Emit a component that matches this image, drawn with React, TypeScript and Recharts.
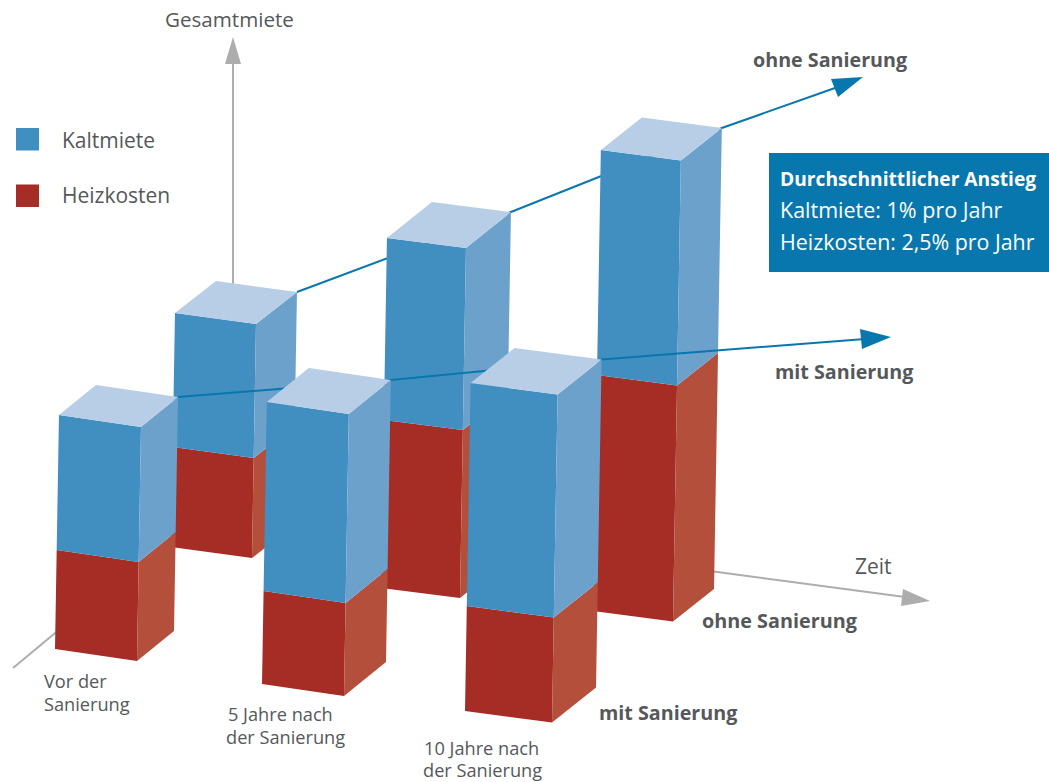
import { Bar, ComposedChart, Line, XAxis, YAxis } from 'recharts'

const W = 1049
const H = 782

const zeitpunkte = ['Vor der Sanierung', '5 Jahre nach der Sanierung', '10 Jahre nach der Sanierung']
const heizkostenOhne = [100, 168, 236]
const kaltmieteOhne = [134, 182, 225]
const heizkostenMit = [99, 93, 105]
const kaltmieteMit = [135, 189, 223]

const rows = zeitpunkte.map((zeit, i) => ({
  zeit,
  heizOhne: heizkostenOhne[i],
  kaltOhne: kaltmieteOhne[i],
  gesamtOhne: heizkostenOhne[i] + kaltmieteOhne[i],
  heizMit: heizkostenMit[i],
  kaltMit: kaltmieteMit[i],
  gesamtMit: heizkostenMit[i] + kaltmieteMit[i],
}))

// where each column stands on the floor of the perspective drawing
interface Box {
  left: number
  floor: number
  width: number
  skew: number
  dx: number
  dy: number
}

const LEAN = 0.017

const boxesOhne: Box[] = [
  { left: 171, floor: 547, width: 81, skew: 11, dx: 41, dy: -32 },
  { left: 381, floor: 588, width: 79, skew: 10, dx: 45, dy: -36 },
  { left: 593, floor: 611, width: 80, skew: 10.5, dx: 41, dy: -32.5 },
]

const boxesMit: Box[] = [
  { left: 55, floor: 649, width: 82, skew: 12, dx: 37, dy: -30 },
  { left: 262, floor: 684, width: 82, skew: 12, dx: 42, dy: -34 },
  { left: 465, floor: 711, width: 87, skew: 11.5, dx: 44, dy: -35 },
]

const BLUE = { front: '#418fc0', side: '#6ca1cb', top: '#b8cde6' }
const RED = { front: '#a52d25', side: '#b34f3b', top: '#b34f3b' }
const LINE_BLUE = '#0877ae'
const AXIS_GRAY = '#adadad'
const TEXT = '#55585a'
const FONT = '"Open Sans", sans-serif'

const pts = (list: number[][]) => list.map((p) => p.join(',')).join(' ')

// front face, side face and optional lid of one stacked segment
function column(boxes: Box[], colors: typeof BLUE, lid: boolean) {
  return function ColumnShape(props: any) {
    const { y, height, index } = props
    const b = boxes[index]
    const low = H - (y + height)
    const high = H - y
    const a = [b.left + LEAN * low, b.floor - low]
    const c = [b.left + LEAN * high, b.floor - high]
    const shift = (p: number[], sx: number, sy: number) => [p[0] + sx, p[1] + sy]
    const aR = shift(a, b.width, b.skew)
    const cR = shift(c, b.width, b.skew)
    return (
      <g>
        <polygon points={pts([a, aR, cR, c])} fill={colors.front} />
        <polygon
          points={pts([aR, shift(aR, b.dx, b.dy), shift(cR, b.dx, b.dy), cR])}
          fill={colors.side}
        />
        {lid && (
          <polygon
            points={pts([c, cR, shift(cR, b.dx, b.dy), shift(c, b.dx, b.dy)])}
            fill={colors.top}
          />
        )}
      </g>
    )
  }
}

// trend line through the rear corner of each column lid, running on to the arrow tip
function trend(boxes: Box[], lineEnd: number[], head: number[][]) {
  return function TrendShape(props: any) {
    const corners = props.points.map((p: any, i: number) => {
      const b = boxes[i]
      const h = H - p.y
      return [b.left + LEAN * h + b.width + b.dx, b.floor - h + b.skew + b.dy]
    })
    return (
      <g>
        <polyline
          points={pts([...corners, lineEnd])}
          fill="none"
          stroke={LINE_BLUE}
          strokeWidth={2}
        />
        <polygon points={pts(head)} fill={LINE_BLUE} />
      </g>
    )
  }
}

function Layer({ children }: { children: any }) {
  return (
    <div style={{ position: 'absolute', left: 0, top: 0 }}>
      <ComposedChart width={W} height={H} data={rows} margin={{ top: 0, right: 0, bottom: 0, left: 0 }}>
        <XAxis dataKey="zeit" hide />
        <YAxis hide domain={[0, H]} />
        {children}
      </ComposedChart>
    </div>
  )
}

function Label({ x, y, bold, size = 21, fill = TEXT, children }: any) {
  return (
    <text x={x} y={y} fontFamily={FONT} fontSize={size} fontWeight={bold ? 700 : 400} fill={fill}>
      {children}
    </text>
  )
}

export default function App() {
  return (
    <div style={{ position: 'absolute', left: 0, top: 0, width: W, height: H, background: '#fff' }}>
      {/* axes sit underneath everything */}
      <svg width={W} height={H} style={{ position: 'absolute', left: 0, top: 0 }}>
        <line x1={233} y1={290} x2={233} y2={62} stroke={AXIS_GRAY} strokeWidth={2} />
        <polygon points="233,37 225,64 241,64" fill={AXIS_GRAY} />
        <line x1={13} y1={668} x2={60} y2={629} stroke={AXIS_GRAY} strokeWidth={2} />
        <line x1={710} y1={571} x2={905} y2={597} stroke={AXIS_GRAY} strokeWidth={2} />
        <polygon points="930,601 903,589 901,606" fill={AXIS_GRAY} />
      </svg>

      <Layer>
        <Line
          dataKey="gesamtOhne"
          isAnimationActive={false}
          dot={false}
          shape={trend(boxesOhne, [835, 88], [[863, 77], [831, 79], [838, 97]])}
        />
      </Layer>
      <Layer>
        <Bar dataKey="heizOhne" stackId="ohne" isAnimationActive={false} shape={column(boxesOhne, RED, false)} />
        <Bar dataKey="kaltOhne" stackId="ohne" isAnimationActive={false} shape={column(boxesOhne, BLUE, true)} />
      </Layer>
      <Layer>
        <Line
          dataKey="gesamtMit"
          isAnimationActive={false}
          dot={false}
          shape={trend(boxesMit, [865, 339], [[891, 337], [860, 329], [862, 349]])}
        />
      </Layer>
      <Layer>
        <Bar dataKey="heizMit" stackId="mit" isAnimationActive={false} shape={column(boxesMit, RED, false)} />
        <Bar dataKey="kaltMit" stackId="mit" isAnimationActive={false} shape={column(boxesMit, BLUE, true)} />
      </Layer>

      {/* legend, notes and labels */}
      <svg width={W} height={H} style={{ position: 'absolute', left: 0, top: 0 }}>
        <Label x={165} y={27} size={20.6}>Gesamtmiete</Label>
        <rect x={16} y={128} width={23} height={22.5} fill={BLUE.front} />
        <Label x={62} y={148}>Kaltmiete</Label>
        <rect x={16} y={184.5} width={23} height={22.5} fill={RED.front} />
        <Label x={62} y={203}>Heizkosten</Label>

        <Label x={753} y={67} size={19.7} bold>ohne Sanierung</Label>
        <Label x={775} y={379} size={19.7} bold>mit Sanierung</Label>
        <Label x={855} y={574}>Zeit</Label>
        <Label x={702} y={628} size={19.8} bold>ohne Sanierung</Label>
        <Label x={599} y={720} size={19.7} bold>mit Sanierung</Label>

        <Label x={44} y={688} size={18.2}>Vor der</Label>
        <Label x={44} y={711} size={18.2}>Sanierung</Label>
        <Label x={228} y={721} size={18.2}>5 Jahre nach</Label>
        <Label x={226} y={744} size={18.2}>der Sanierung</Label>
        <Label x={424} y={755} size={18.2}>10 Jahre nach</Label>
        <Label x={423} y={777} size={18.2}>der Sanierung</Label>

        <rect x={769} y={153} width={280} height={119} fill={LINE_BLUE} />
        <Label x={780} y={186} size={19.2} bold fill="#fff">Durchschnittlicher Anstieg</Label>
        <Label x={780} y={218} size={21.5} fill="#fff">Kaltmiete: 1% pro Jahr</Label>
        <Label x={780} y={250} size={21.4} fill="#fff">Heizkosten: 2,5% pro Jahr</Label>
      </svg>
    </div>
  )
}
